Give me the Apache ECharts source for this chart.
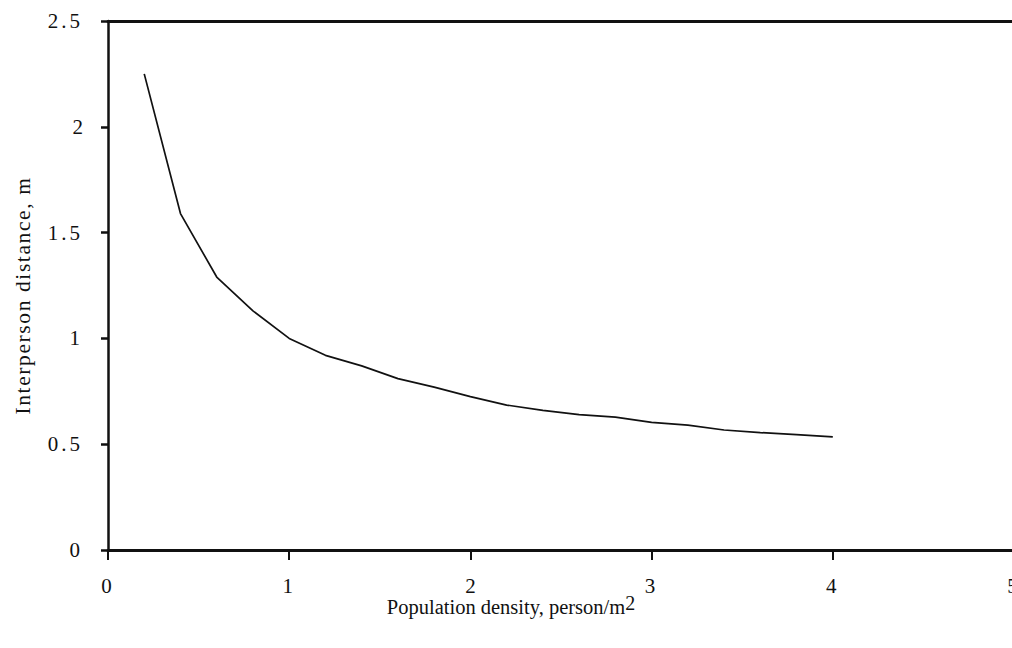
<!DOCTYPE html>
<html>
<head>
<meta charset="utf-8">
<script src="https://cdn.jsdelivr.net/npm/echarts@6/dist/echarts.min.js"></script>
<style>
  html, body { margin: 0; padding: 0; background: #fff; overflow: hidden; }
  #chart { width: 1012px; height: 648px; }
</style>
</head>
<body>
<div id="chart"></div>
<script>
// Population density (person/m2) sampled every 0.2
const densities = [0.2, 0.4, 0.6, 0.8, 1.0, 1.2, 1.4, 1.6, 1.8, 2.0,
                   2.2, 2.4, 2.6, 2.8, 3.0, 3.2, 3.4, 3.6, 3.8, 4.0];
// Interperson distance (m) at each density
const distances = [2.25, 1.59, 1.29, 1.13, 1.00, 0.92, 0.87, 0.81, 0.77, 0.725,
                   0.685, 0.66, 0.64, 0.628, 0.603, 0.59, 0.567, 0.555, 0.545, 0.535];

const xRange = { min: 0, max: 5, step: 1 };
const yRange = { min: 0, max: 2.5, step: 0.5 };
const xTitle = 'Population density, person/m';
const xTitleSup = '2';
const yTitle = 'Interperson distance, m';

const serif = "'Liberation Serif', 'DejaVu Serif', serif";
const ink = '#111';

const chart = echarts.init(document.getElementById('chart'), null, { renderer: 'svg' });

chart.setOption({
  backgroundColor: '#fff',
  animation: false,
  // the plot runs a little past the right edge of the page
  grid: {
    left: 108, width: 906, top: 21, height: 529,
    containLabel: false, outerBoundsMode: 'none'
  },
  xAxis: [
    {
      type: 'value',
      min: xRange.min, max: xRange.max, interval: xRange.step,
      position: 'bottom',
      axisLine: { show: true, onZero: false, lineStyle: { color: ink, width: 3 } },
      axisTick: { show: true, inside: false, length: 10, lineStyle: { color: ink, width: 2 } },
      axisLabel: { color: ink, fontFamily: serif, fontSize: 21, margin: 25 },
      splitLine: { show: false },
      name: '{t|' + xTitle + '}{s|' + xTitleSup + '}',
      nameLocation: 'middle',
      nameGap: 41,
      nameMoveOverlap: false,
      nameTextStyle: {
        // title sits left of the axis midpoint
        padding: [0, 100, 0, 0],
        rich: {
          t: { fontFamily: serif, fontSize: 20.5, color: ink, verticalAlign: 'bottom', lineHeight: 26 },
          s: { fontFamily: serif, fontSize: 20, color: ink, verticalAlign: 'bottom', padding: [0, 0, 4, 0], lineHeight: 26 }
        }
      }
    },
    {
      // plain frame line along the top of the plot
      type: 'value',
      min: xRange.min, max: xRange.max, interval: xRange.step,
      position: 'top',
      axisLine: { show: true, onZero: false, lineStyle: { color: ink, width: 3 } },
      axisTick: { show: false },
      axisLabel: { show: false },
      splitLine: { show: false }
    }
  ],
  yAxis: {
    type: 'value',
    min: yRange.min, max: yRange.max, interval: yRange.step,
    axisLine: { show: true, onZero: false, lineStyle: { color: ink, width: 2.5 } },
    axisTick: { show: true, inside: false, length: 7, lineStyle: { color: ink, width: 2.5 } },
    axisLabel: { color: ink, fontFamily: serif, fontSize: 21, margin: 25 },
    splitLine: { show: false },
    name: yTitle,
    nameLocation: 'middle',
    nameRotate: 90,
    nameGap: 74,
    nameMoveOverlap: false,
    nameTextStyle: { fontFamily: serif, fontSize: 21.5, color: ink, padding: [0, 20, 0, 0] }
  },
  series: [{
    type: 'line',
    xAxisIndex: 0,
    data: densities.map((d, i) => [d, distances[i]]),
    showSymbol: false,
    smooth: false,
    lineStyle: { color: ink, width: 1.7 },
    clip: false
  }]
});

// typewriter-style spacing for the tick numbers and the vertical title
function spaceText() {
  const nodes = document.querySelectorAll('#chart svg text');
  nodes.forEach(function (el) {
    const s = el.textContent;
    if (s === yTitle) {
      el.style.letterSpacing = '1.6px';
    } else if (/^[0-9.]+$/.test(s) && s !== xTitleSup) {
      el.style.letterSpacing = '3px';
    }
  });
}
spaceText();
chart.on('finished', spaceText);
</script>
</body>
</html>
